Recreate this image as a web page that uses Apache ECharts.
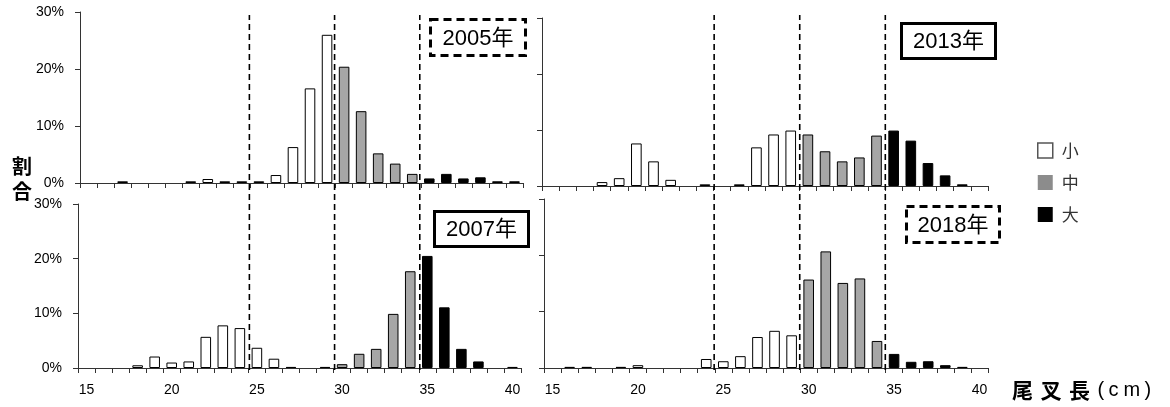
<!DOCTYPE html>
<html>
<head>
<meta charset="utf-8">
<script src="https://cdn.jsdelivr.net/npm/echarts@6/dist/echarts.min.js"></script>
<style>
html,body{margin:0;padding:0;background:#fff;}
#chart{width:1170px;height:407px;}
</style>
</head>
<body>
<div id="chart"></div>
<script>
// ---- data ----
const lengths = [15,16,17,18,19,20,21,22,23,24,25,26,27,28,29,30,31,32,33,34,35,36,37,38,39,40];
const pct2005 = [null,null,0.3,null,null,null,0.3,0.7,0.3,0.3,0.3,1.4,6.3,16.6,26.0,20.4,12.6,5.2,3.4,1.6,0.8,1.6,0.8,1.0,0.3,0.3];
const pct2013 = [null,null,null,0.7,1.4,7.6,4.4,1.1,null,0.3,null,0.3,6.9,9.2,9.9,9.2,6.2,4.4,5.1,9.0,9.9,8.1,4.1,1.9,0.3,null];
const pct2007 = [null,null,null,0.5,2.1,1.0,1.2,5.7,7.8,7.3,3.7,1.7,0.2,null,0.2,0.7,2.6,3.5,9.9,17.7,20.5,11.1,3.5,1.2,null,0.2];
const pct2018 = [null,0.2,0.2,null,0.2,0.5,null,null,null,1.6,1.2,2.1,5.5,6.6,5.8,15.7,20.7,15.1,15.9,4.8,2.5,1.1,1.2,0.5,0.2,null];
const panelData = [pct2005, pct2013, pct2007, pct2018];
const panelYears = ['2005年','2013年','2007年','2018年'];
const classNames = ['小','中','大'];
const classLimits = [30, 35];      // 小 < 30, 中 30–34, 大 >= 35
const cutLines = [25, 30, 35];     // dashed bin boundaries
const yTicks = [0, 10, 20, 30];

// ---- layout / style ----
const FONT = '"Liberation Sans","Noto Sans CJK JP",sans-serif';
const JP = '"Noto Sans CJK JP","Liberation Sans",sans-serif';
const classColors = ['#ffffff','#a6a6a6','#000000'];
const grids = [
  {left:80,  top:12,  width:443, height:171},
  {left:542, top:18,  width:446, height:168},
  {left:78,  top:204, width:443, height:164},
  {left:544, top:199, width:444, height:169},
  {left:79,  top:15,  width:443, height:355},
  {left:543, top:15,  width:445, height:355}
];
const boxes = [
  {x:430.5, y:19.5,  w:95, h:36, dashed:true},
  {x:901.5, y:23.5,  w:94, h:35, dashed:false},
  {x:434.5, y:211.5, w:94, h:35, dashed:false},
  {x:906.5, y:206.5, w:93, h:36, dashed:true}
];

function classOf(len){
  if (len < classLimits[0]) return 0;
  if (len < classLimits[1]) return 1;
  return 2;
}

const xAxes = [], yAxes = [], series = [];
for (let p = 0; p < 4; p++) {
  const isBottom = p >= 2, isLeft = p % 2 === 0;
  xAxes.push({
    type:'category', gridIndex:p, data:lengths.map(String), boundaryGap:true,
    axisLine:{show:true, lineStyle:{color:'#333', width:1}},
    axisTick:{show:true, interval:0, length:5, lineStyle:{color:'#333'}},
    axisLabel:{show:isBottom, interval:4, fontSize:14, color:'#000', fontFamily:FONT, margin:15},
    splitLine:{show:false}
  });
  yAxes.push({
    type:'value', gridIndex:p, min:yTicks[0], max:yTicks[yTicks.length-1], interval:10,
    axisLine:{show:true, lineStyle:{color:'#333', width:1}},
    axisTick:{show:true, length:5, lineStyle:{color:'#333'}},
    axisLabel:{show:isLeft, fontSize:14, color:'#000', fontFamily:FONT, margin:16, formatter:'{value}%'},
    splitLine:{show:false}
  });
  for (let k = 0; k < 3; k++) {
    series.push({
      type:'bar', name:classNames[k], xAxisIndex:p, yAxisIndex:p, stack:'p'+p,
      barWidth:'62%',
      data: panelData[p].map((v,i) => classOf(lengths[i]) === k ? v : null),
      itemStyle:{color:classColors[k], borderColor:'#000', borderWidth:1},
      animation:false, silent:true
    });
  }
}
// overlay axes for dashed boundaries
for (let c = 0; c < 2; c++) {
  xAxes.push({type:'value', gridIndex:4+c, min:lengths[0], max:lengths[lengths.length-1]+1, show:false});
  yAxes.push({type:'value', gridIndex:4+c, min:0, max:1, show:false});
  cutLines.forEach(b => {
    series.push({
      type:'line', xAxisIndex:4+c, yAxisIndex:4+c, data:[[b,0],[b,1]],
      symbol:'none', silent:true, animation:false, z:5,
      lineStyle:{color:'#000', width:1.6, type:[6,4]}
    });
  });
}

const graphic = [];
boxes.forEach((b, i) => {
  graphic.push({
    type:'rect', shape:{x:b.x, y:b.y, width:b.w, height:b.h}, z:10,
    style:{fill:'#fff', stroke:'#000', lineWidth:3, lineDash: b.dashed ? [8,5] : null}
  });
  graphic.push({
    type:'text', x:b.x + b.w/2, y:b.y + b.h/2 + 1, z:11,
    style:{text:panelYears[i], align:'center', verticalAlign:'middle', fontSize:22, fontFamily:FONT, fill:'#000'}
  });
});
graphic.push({
  type:'text', x:22, y:154,
  style:{text:'割\n合', align:'center', verticalAlign:'top', fontSize:20, fontWeight:'bold', lineHeight:25, fontFamily:JP, fill:'#000'}
});
graphic.push({
  type:'text', x:1012, y:390,
  style:{
    text:'{a|尾}{a|叉}{a|長}{p|(}{c|c}{m|m}{p|)}',
    verticalAlign:'middle', align:'left',
    rich:{
      a:{fontSize:21, fontWeight:'bold', fontFamily:JP, width:28.5, fill:'#000'},
      p:{fontSize:20, fontFamily:FONT, width:11, fill:'#000'},
      c:{fontSize:20, fontFamily:FONT, width:15, fill:'#000'},
      m:{fontSize:20, fontFamily:FONT, width:21, fill:'#000'}
    }
  }
});

const option = {
  backgroundColor:'#fff',
  animation:false,
  grid: grids.map(g => Object.assign({outerBoundsMode:'none', containLabel:false}, g)),
  xAxis: xAxes,
  yAxis: yAxes,
  legend:{
    orient:'vertical', left:1037, top:142, padding:0, itemWidth:15, itemHeight:15, itemGap:15,
    icon:'rect',
    textStyle:{fontSize:17, color:'#333', fontFamily:JP, padding:[0,0,0,4]},
    data:[
      {name:'小', itemStyle:{color:'#fff', borderColor:'#555', borderWidth:1.5}},
      {name:'中', itemStyle:{color:'#8c8c8c', borderWidth:0}},
      {name:'大', itemStyle:{color:'#000', borderWidth:0}}
    ],
    selectedMode:false
  },
  graphic: graphic,
  series: series
};
const chart = echarts.init(document.getElementById('chart'), null, {renderer:'canvas'});
chart.setOption(option);
</script>
</body>
</html>
